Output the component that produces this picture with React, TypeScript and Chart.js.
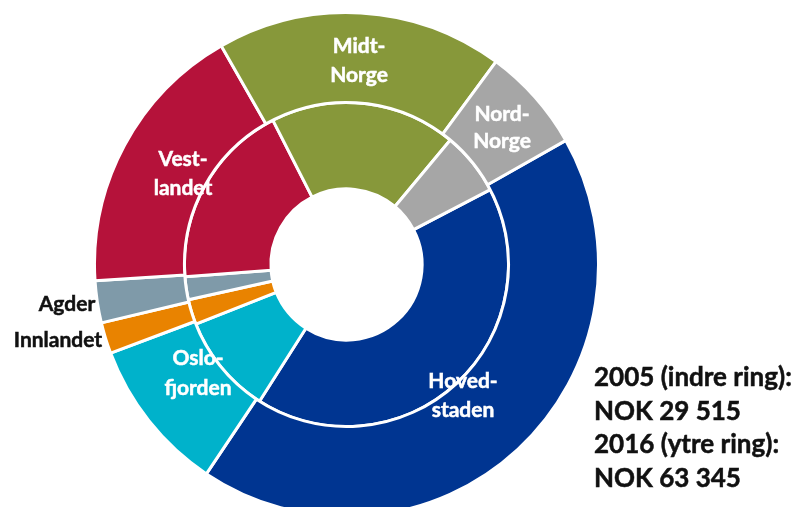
import React, { useEffect, useRef } from "react";
import { Chart, registerables } from "chart.js";

Chart.register(...registerables);

// Regions in clockwise order, starting with Hovedstaden
const regions = ["Hovedstaden", "Oslofjorden", "Innlandet", "Agder", "Vestlandet", "Midt-Norge", "Nord-Norge"];
// Shares (%) – outer ring 2016, inner ring 2005
const values2016 = [42.6, 9.9, 2.0, 2.7, 17.75, 18.4, 6.7];
const values2005 = [41.7, 10.0, 2.5, 2.3, 18.7, 18.6, 6.3];
const regionColors = ["#003591", "#00B2CB", "#E98300", "#7F9AA9", "#B5123A", "#87983A", "#A6A6A6"];

const summaryLines = ["2005 (indre ring):", "NOK 29 515", "2016 (ytre ring):", "NOK 63 345"];

type SegLabel = { lines: string[]; cx: number; top: number; lh: number; color: string };
const segmentLabels: SegLabel[] = [
  { lines: ["Midt-", "Norge"], cx: 359, top: 30, lh: 29, color: "#ffffff" },
  { lines: ["Nord-", "Norge"], cx: 502, top: 99, lh: 27, color: "#ffffff" },
  { lines: ["Vest-", "landet"], cx: 183, top: 144, lh: 28.5, color: "#ffffff" },
  { lines: ["Oslo-", "fjorden"], cx: 198, top: 342, lh: 30, color: "#ffffff" },
  { lines: ["Hoved-", "staden"], cx: 463, top: 366, lh: 28.5, color: "#ffffff" },
  { lines: ["Agder"], cx: 67, top: 289, lh: 28.5, color: "#111111" },
  { lines: ["Innlandet"], cx: 58, top: 325, lh: 28.5, color: "#111111" },
];

const FONT = "Lato, 'Open Sans', sans-serif";

export default function App() {
  const canvasRef = useRef<HTMLCanvasElement | null>(null);

  useEffect(() => {
    const canvas = canvasRef.current;
    if (!canvas) return;
    const chart = new Chart(canvas, {
      type: "doughnut",
      data: {
        labels: regions,
        datasets: [
          {
            label: "2016",
            data: values2016,
            backgroundColor: regionColors,
            borderColor: "#ffffff",
            borderWidth: 3,
            hoverBorderWidth: 3,
            weight: 90,
            rotation: 60.5,
          } as any,
          {
            label: "2005",
            data: values2005,
            backgroundColor: regionColors,
            borderColor: "#ffffff",
            borderWidth: 3,
            hoverBorderWidth: 3,
            weight: 86.5,
            rotation: 62.5,
          } as any,
        ],
      },
      options: {
        responsive: false,
        animation: false,
        cutout: "30%",
        events: [],
        layout: { padding: 0 },
        plugins: {
          legend: { display: false },
          tooltip: { enabled: false },
        },
      },
    });
    return () => chart.destroy();
  }, []);

  return (
    <div
      style={{
        position: "absolute",
        left: 0,
        top: 0,
        width: 805,
        height: 507,
        overflow: "hidden",
        background: "#ffffff",
        fontFamily: FONT,
      }}
    >
      <canvas
        ref={canvasRef}
        width={507}
        height={507}
        style={{ position: "absolute", left: 93, top: 11, width: 507, height: 507, display: "block" }}
      />
      {segmentLabels.map((l, i) => (
        <div
          key={i}
          style={{
            position: "absolute",
            left: l.cx - 70,
            top: l.top,
            width: 140,
            textAlign: "center",
            fontWeight: 700,
            fontSize: 21,
            lineHeight: l.lh + "px",
            color: l.color,
            WebkitTextStroke: `0.5px ${l.color}`,
            whiteSpace: "nowrap",
          }}
        >
          {l.lines.map((t, j) => (
            <div key={j}>{t}</div>
          ))}
        </div>
      ))}
      <div
        style={{
          position: "absolute",
          left: 594,
          top: 360,
          fontWeight: 700,
          fontSize: 26,
          lineHeight: "33.5px",
          color: "#111111",
          WebkitTextStroke: "0.5px #111111",
          whiteSpace: "nowrap",
        }}
      >
        {summaryLines.map((t, j) => (
          <div key={j}>{t}</div>
        ))}
      </div>
    </div>
  );
}
